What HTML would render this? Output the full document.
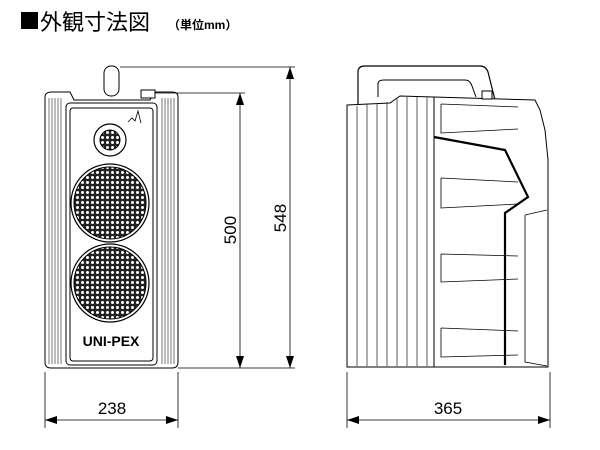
<!DOCTYPE html>
<html><head><meta charset="utf-8"><style>
body{margin:0;background:#fff;width:600px;height:450px;overflow:hidden}
svg{display:block}
</style></head><body>
<svg width="600" height="450" viewBox="0 0 600 450" xmlns="http://www.w3.org/2000/svg">
<defs>
<pattern id="dots" width="5" height="5" patternUnits="userSpaceOnUse">
<rect width="5" height="5" fill="#222"/><circle cx="2.5" cy="2.5" r="1.5" fill="#fff"/>
</pattern>
<marker id="ar" markerWidth="12" markerHeight="8" refX="12" refY="4" orient="auto" markerUnits="userSpaceOnUse"><path d="M0,0 L12,4 L0,8 Z" fill="#000"/></marker>
<marker id="al" markerWidth="12" markerHeight="8" refX="0" refY="4" orient="auto" markerUnits="userSpaceOnUse"><path d="M12,0 L0,4 L12,8 Z" fill="#000"/></marker>
</defs>
<rect x="21" y="12" width="17" height="17" fill="#000"/>
<text x="40" y="30" font-family="'Liberation Sans','Noto Sans CJK JP',sans-serif" font-size="22" fill="#000">外観寸法図</text>
<text x="168" y="29" font-family="'Liberation Sans','Noto Sans CJK JP',sans-serif" font-size="12" font-weight="bold" fill="#000">（単位mm）</text>

<g stroke="#000" fill="none" stroke-width="1">
<rect x="104" y="66" width="15" height="30" rx="7" fill="#fff"/>
<path d="M45,97 Q45,92 52,92 L70,92 L74,100 L150,100 L154,92 L172,92 Q178,92 178,97 L178,362 Q178,368 172,368 L51,368 Q45,368 45,362 Z" fill="#fff"/>
<g stroke="#555" stroke-width="0.8">
<line x1="49" y1="98" x2="49" y2="364"/><line x1="52" y1="98" x2="52" y2="364"/><line x1="55" y1="98" x2="55" y2="364"/><line x1="58" y1="98" x2="58" y2="364"/><line x1="61" y1="98" x2="61" y2="364"/>
<line x1="162" y1="98" x2="162" y2="364"/><line x1="165" y1="98" x2="165" y2="364"/><line x1="168" y1="98" x2="168" y2="364"/><line x1="171" y1="98" x2="171" y2="364"/><line x1="174" y1="98" x2="174" y2="364"/>
</g>
<rect x="66" y="103" width="91" height="262" rx="4"/>
<rect x="70" y="108" width="83" height="253" rx="3"/>
<rect x="141" y="90" width="14" height="8" fill="#fff"/>
<circle cx="110" cy="140" r="16" stroke-width="1.2"/>
<circle cx="110" cy="140" r="10" fill="url(#dots)"/>
<circle cx="110" cy="203" r="39" stroke-width="1.2"/>
<circle cx="110" cy="203" r="36" fill="url(#dots)"/>
<circle cx="110" cy="283" r="39" stroke-width="1.2"/>
<circle cx="110" cy="283" r="36" fill="url(#dots)"/>
<path d="M128,122 l4,-4 l3,3 l3,-10 l3,12" stroke-width="0.8"/>
</g>
<text x="111" y="346" text-anchor="middle" font-family="'Liberation Sans',sans-serif" font-size="14" font-weight="bold">UNI-PEX</text>

<g stroke="#000" fill="none" stroke-width="1">
<path d="M358,104 L358,72 Q358,66 365,66 L480,66 Q486,66 488,72 L496,104" stroke-width="1.2"/>
<path d="M378,97 L378,84 Q378,80 384,80 L465,80 Q470,80 472,86 L476,97"/>
<path d="M347,105 L390,103 L400,96 L535,100 L540,110 L545,130 L548,160 L548,210 L548,367 L347,367 Z" fill="#fff"/>
<rect x="482" y="91" width="10" height="8" fill="#fff"/>
<g stroke="#333" stroke-width="0.8">
<line x1="357" y1="106" x2="357" y2="366"/><line x1="367" y1="104" x2="367" y2="366"/><line x1="377" y1="103" x2="377" y2="366"/><line x1="387" y1="102" x2="387" y2="366"/><line x1="397" y1="98" x2="397" y2="366"/><line x1="407" y1="97" x2="407" y2="366"/><line x1="417" y1="97" x2="417" y2="366"/><line x1="427" y1="97" x2="427" y2="366"/>
</g>
<line x1="434" y1="97" x2="434" y2="367"/>
<g stroke-width="0.8">
<path d="M441,104 L518,107 M441,104 L441,133 L518,129"/>
<path d="M441,178 L518,182 M441,178 L441,208 L518,204"/>
<path d="M441,254 L518,256 M441,254 L441,282 L518,279"/>
<path d="M441,328 L518,331 M441,328 L441,357 L518,355"/>
<path d="M525,215 L547,210 M525,215 L525,362 L547,366"/>
</g>
<path d="M434,137 L505,150 L528,197 L505,213 L505,365" stroke-width="2.2"/>

<g stroke-width="0.8">
<line x1="120" y1="67" x2="295" y2="67"/>
<line x1="155" y1="93" x2="245" y2="93"/>
<line x1="178" y1="368" x2="295" y2="368"/>
<line x1="45" y1="372" x2="45" y2="428"/>
<line x1="178" y1="372" x2="178" y2="428"/>
<line x1="347" y1="372" x2="347" y2="428"/>
<line x1="550" y1="372" x2="550" y2="428"/>
</g>
<line x1="240" y1="93" x2="240" y2="368" marker-start="url(#al)" marker-end="url(#ar)" stroke-width="0.8"/>
<line x1="290" y1="67" x2="290" y2="368" marker-start="url(#al)" marker-end="url(#ar)" stroke-width="0.8"/>
<line x1="45" y1="420" x2="178" y2="420" marker-start="url(#al)" marker-end="url(#ar)" stroke-width="0.8"/>
<line x1="347" y1="420" x2="550" y2="420" marker-start="url(#al)" marker-end="url(#ar)" stroke-width="0.8"/>
</g>
<g font-family="'Liberation Sans',sans-serif" font-size="17" fill="#000">
<text x="112" y="414" text-anchor="middle">238</text>
<text x="448" y="414" text-anchor="middle">365</text>
<text transform="translate(236,230) rotate(-90)" text-anchor="middle">500</text>
<text transform="translate(286,218) rotate(-90)" text-anchor="middle">548</text>
</g>
</svg>
</body></html>
